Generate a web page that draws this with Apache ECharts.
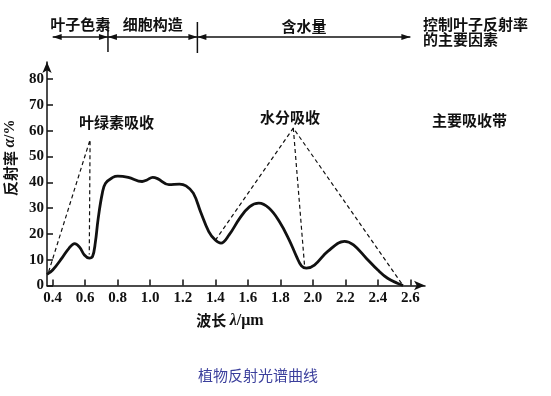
<!DOCTYPE html>
<html><head><meta charset="utf-8">
<script src="https://cdn.jsdelivr.net/npm/echarts@6/dist/echarts.min.js"></script>
<style>html,body{margin:0;padding:0;background:#fff}#c{width:551px;height:396px}</style>
</head><body><div id="c"></div>
<script>
// ---- data ----
const xTicks = [0.4, 0.6, 0.8, 1.0, 1.2, 1.4, 1.6, 1.8, 2.0, 2.2, 2.4, 2.6];
const yTicks = [0, 10, 20, 30, 40, 50, 60, 70, 80];
const reflectance = [
  [0.365, 4.3], [0.40, 6.0], [0.46, 10.9], [0.50, 14.4], [0.535, 16.2], [0.565, 14.9],
  [0.595, 11.8], [0.625, 10.6], [0.645, 11.2], [0.662, 16.5], [0.68, 26], [0.705, 35.7],
  [0.725, 39.6], [0.77, 41.9], [0.80, 42.4], [0.865, 41.9], [0.95, 40.3], [0.98, 40.9],
  [1.015, 41.9], [1.045, 41.4], [1.115, 39.1], [1.18, 39.3], [1.22, 38.6], [1.265, 35.8],
  [1.31, 28.5], [1.36, 20.9], [1.40, 17.6], [1.435, 16.4], [1.485, 19.6], [1.55, 26],
  [1.61, 30.5], [1.668, 31.9], [1.73, 30], [1.795, 24.7], [1.855, 17.6], [1.90, 11.2],
  [1.93, 7.6], [1.96, 6.7], [2.01, 7.9], [2.09, 13.1], [2.195, 17.1], [2.25, 15.7],
  [2.33, 10.5], [2.40, 6.0], [2.46, 2.8], [2.52, 0.9], [2.555, 0]
];
const chlorophyllBand = [[0.375, 5.3], [0.63, 56.5], [0.625, 12]];
const waterBandOuter = [[1.4, 17.5], [1.88, 61], [2.555, 0]];
const waterBandInner = [[1.88, 61], [1.95, 7]];
const regionBounds = [0.4, 0.74, 1.29, 2.6];
const regionNames = ['叶子色素', '细胞构造', '含水量'];
const factorLabel = '控制叶子反射率\n的主要因素';
const bandLabels = ['叶绿素吸收', '水分吸收', '主要吸收带'];
const chartTitle = '植物反射光谱曲线';

// ---- chart ----
const serif = '"Liberation Serif", "DejaVu Serif", serif';
const cjk = '"Noto Sans CJK SC", sans-serif';
const ink = '#111';
const chart = echarts.init(document.getElementById('c'), null, {renderer: 'canvas'});

const dashStyle = {color: ink, width: 1.2, type: [4, 3]};
const dashSeries = d => ({type: 'line', data: d, symbol: 'none', silent: true, lineStyle: dashStyle, z: 2});

chart.setOption({
  animation: false,
  title: {
    text: chartTitle, left: 198, top: 368, padding: 0,
    textStyle: {color: '#3b3f9c', fontSize: 15, fontWeight: 'normal', fontFamily: cjk}
  },
  grid: {left: 47, right: 126, top: 62, bottom: 110.5, containLabel: false, outerBoundsMode: 'none'},
  xAxis: {
    type: 'value', min: 0.365, max: 2.69,
    axisLine: {lineStyle: {color: ink, width: 1.5}, symbol: ['none', 'arrow'], symbolSize: [7, 11]},
    axisTick: {inside: true, length: 6, customValues: xTicks, lineStyle: {color: ink, width: 1.5}},
    axisLabel: {customValues: xTicks, formatter: v => v.toFixed(1), color: ink,
      fontFamily: serif, fontWeight: 'bold', fontSize: 15, margin: 5},
    splitLine: {show: false},
    name: '{a|波长} {b|λ}{c|/μm}', nameLocation: 'middle', nameGap: 27,
    nameTextStyle: {padding: [0, 12, 0, 0], rich: {
      a: {fontFamily: cjk, fontWeight: 'bold', fontSize: 15, color: ink},
      b: {fontFamily: serif, fontStyle: 'italic', fontWeight: 'bold', fontSize: 16, color: ink},
      c: {fontFamily: serif, fontWeight: 'bold', fontSize: 16, color: ink}
    }}
  },
  yAxis: {
    type: 'value', min: 0, max: 86.6,
    axisLine: {show: true, lineStyle: {color: ink, width: 1.5}, symbol: ['none', 'arrow'], symbolSize: [7, 11]},
    axisTick: {show: true, inside: true, length: 6, customValues: yTicks, lineStyle: {color: ink, width: 1.5}},
    axisLabel: {customValues: yTicks, color: ink, fontFamily: serif, fontWeight: 'bold', fontSize: 15, margin: 3},
    splitLine: {show: false},
    name: '{a|反射率} {b|α}{c|/%}', nameLocation: 'middle', nameRotate: 90, nameGap: 28,
    nameTextStyle: {padding: [0, 0, 0, 32], rich: {
      a: {fontFamily: cjk, fontWeight: 'bold', fontSize: 15, color: ink},
      b: {fontFamily: serif, fontStyle: 'italic', fontWeight: 'bold', fontSize: 16, color: ink},
      c: {fontFamily: serif, fontWeight: 'bold', fontSize: 15, color: ink}
    }}
  },
  series: [
    {type: 'line', data: reflectance, smooth: 0.4, symbol: 'none',
      lineStyle: {color: ink, width: 2.8}, z: 3, clip: false},
    dashSeries(chlorophyllBand),
    dashSeries(waterBandOuter),
    dashSeries(waterBandInner)
  ]
});

// ---- annotations placed through the x axis scale ----
const px = v => chart.convertToPixel({xAxisIndex: 0}, v);
const g = [];
const lineY = 37;
const arrow = (tipX, dir) => ({
  type: 'polygon', silent: true,
  shape: {points: [[tipX, lineY], [tipX - dir * 9, lineY - 3], [tipX - dir * 9, lineY + 3]]},
  style: {fill: ink}
});
for (let i = 0; i < regionNames.length; i++) {
  const x0 = px(regionBounds[i]), x1 = px(regionBounds[i + 1]);
  g.push({type: 'line', silent: true, shape: {x1: x0, y1: lineY, x2: x1, y2: lineY}, style: {stroke: ink, lineWidth: 1.5}});
  g.push(arrow(x0, -1), arrow(x1, 1));
  g.push({type: 'text', silent: true, style: {
    text: regionNames[i], x: (x0 + x1) / 2, y: i < 2 ? 24 : 26, align: 'center', verticalAlign: 'middle',
    fontFamily: cjk, fontWeight: 'bold', fontSize: 15, fill: ink}});
}
[regionBounds[1], regionBounds[2]].forEach((b, k) => {
  const x = px(b);
  g.push({type: 'line', silent: true, shape: {x1: x, y1: 20 + 2 * k, x2: x, y2: 52 + k}, style: {stroke: ink, lineWidth: 1.5}});
});
g.push({type: 'text', silent: true, style: {
  text: factorLabel, x: 423, y: 32, align: 'left', verticalAlign: 'middle', lineHeight: 15,
  fontFamily: cjk, fontWeight: 'bold', fontSize: 15, fill: ink}});
const bandPos = [[116.5, 122], [290, 117], [469.5, 120]];
bandLabels.forEach((t, i) => g.push({type: 'text', silent: true, style: {
  text: t, x: bandPos[i][0], y: bandPos[i][1], align: 'center', verticalAlign: 'middle',
  fontFamily: cjk, fontWeight: 'bold', fontSize: 15, fill: ink}}));
chart.setOption({graphic: {elements: g}});
</script>
</body></html>
